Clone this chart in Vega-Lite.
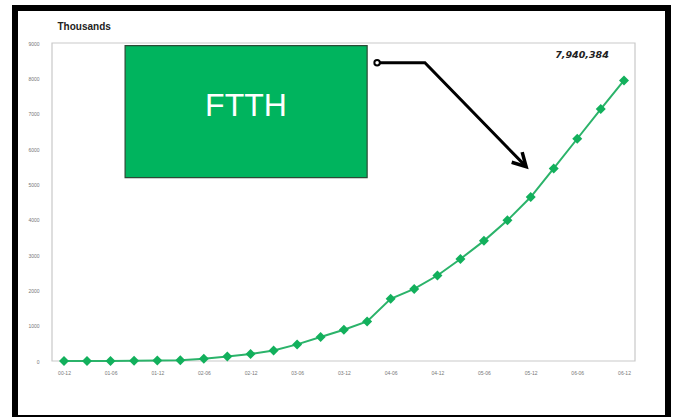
{
  "$schema": "https://vega.github.io/schema/vega-lite/v6.json",
  "width": 653,
  "height": 410,
  "autosize": {"type": "none"},
  "padding": {"left": 15, "top": 8, "right": 6, "bottom": 0},
  "background": "white",
  "view": {"stroke": "black", "strokeWidth": 6, "fill": "white"},
  "config": {"font": "Liberation Sans"},
  "datasets": {
    "subscribers": [
      {"date": "2000-12-01", "k": 0},
      {"date": "2001-03-01", "k": 1},
      {"date": "2001-06-01", "k": 3},
      {"date": "2001-09-01", "k": 5},
      {"date": "2001-12-01", "k": 15},
      {"date": "2002-03-01", "k": 18},
      {"date": "2002-06-01", "k": 65},
      {"date": "2002-09-01", "k": 130},
      {"date": "2002-12-01", "k": 200},
      {"date": "2003-03-01", "k": 300},
      {"date": "2003-06-01", "k": 470},
      {"date": "2003-09-01", "k": 680},
      {"date": "2003-12-01", "k": 886},
      {"date": "2004-03-01", "k": 1120},
      {"date": "2004-06-01", "k": 1760},
      {"date": "2004-09-01", "k": 2040},
      {"date": "2004-12-01", "k": 2420},
      {"date": "2005-03-01", "k": 2887},
      {"date": "2005-06-01", "k": 3400},
      {"date": "2005-09-01", "k": 3980},
      {"date": "2005-12-01", "k": 4640},
      {"date": "2006-03-01", "k": 5450},
      {"date": "2006-06-01", "k": 6290},
      {"date": "2006-09-01", "k": 7130},
      {"date": "2006-12-01", "k": 7940.384}
    ],
    "plotFrame": [
      {"date": "2000-10-15", "date2": "2007-01-13", "k": 0, "k2": 9000}
    ],
    "callout": [
      {"date": "2001-07-28", "date2": "2004-03-01", "k": 5190, "k2": 8924}
    ],
    "calloutLabel": [
      {"date": "2002-11-13", "k": 7226, "label": "FTTH"}
    ],
    "arrow": [
      {"date": "2004-04-09", "k": 8443, "step": 1},
      {"date": "2004-10-13", "k": 8443, "step": 2},
      {"date": "2005-11-13", "k": 5500, "step": 3}
    ]
  },
  "encoding": {
    "x": {
      "field": "date",
      "type": "temporal",
      "scale": {
        "type": "utc",
        "domain": [
          {"year": 2000, "month": 10, "date": 15, "utc": true},
          {"year": 2007, "month": 1, "date": 13, "utc": true}
        ],
        "range": [37, 620]
      },
      "axis": {
        "values": [
          {"year": 2000, "month": 12, "date": 1, "utc": true},
          {"year": 2001, "month": 6, "date": 1, "utc": true},
          {"year": 2001, "month": 12, "date": 1, "utc": true},
          {"year": 2002, "month": 6, "date": 1, "utc": true},
          {"year": 2002, "month": 12, "date": 1, "utc": true},
          {"year": 2003, "month": 6, "date": 1, "utc": true},
          {"year": 2003, "month": 12, "date": 1, "utc": true},
          {"year": 2004, "month": 6, "date": 1, "utc": true},
          {"year": 2004, "month": 12, "date": 1, "utc": true},
          {"year": 2005, "month": 6, "date": 1, "utc": true},
          {"year": 2005, "month": 12, "date": 1, "utc": true},
          {"year": 2006, "month": 6, "date": 1, "utc": true},
          {"year": 2006, "month": 12, "date": 1, "utc": true}
        ],
        "format": "%y-%m",
        "offset": -57,
        "domain": false,
        "ticks": false,
        "grid": false,
        "labelFontSize": 5,
        "labelColor": "#777777",
        "labelPadding": 9,
        "labelFlush": false,
        "labelOverlap": false,
        "title": null
      }
    },
    "y": {
      "field": "k",
      "type": "quantitative",
      "scale": {"domain": [0, 9000], "range": [353, 35], "nice": false, "zero": false},
      "axis": {
        "values": [0, 1000, 2000, 3000, 4000, 5000, 6000, 7000, 8000, 9000],
        "format": "d",
        "offset": -37,
        "domain": false,
        "ticks": false,
        "grid": false,
        "labelFontSize": 5,
        "labelColor": "#777777",
        "labelPadding": 13,
        "labelFlush": false,
        "labelOverlap": false,
        "title": "Thousands",
        "titleAngle": 0,
        "titleAlign": "left",
        "titleBaseline": "alphabetic",
        "titleX": 5,
        "titleY": 21,
        "titleFontSize": 10,
        "titleFontWeight": "bold",
        "titleColor": "#222222"
      }
    }
  },
  "layer": [
    {
      "data": {"name": "plotFrame"},
      "mark": {"type": "rect", "fill": "transparent", "stroke": "#c9c9c9", "strokeWidth": 1.2},
      "encoding": {"x2": {"field": "date2"}, "y2": {"field": "k2"}}
    },
    {
      "data": {"name": "callout"},
      "mark": {"type": "rect", "fill": "#00b45e", "stroke": "#2b4a36", "strokeWidth": 1.2},
      "encoding": {"x2": {"field": "date2"}, "y2": {"field": "k2"}}
    },
    {
      "data": {"name": "calloutLabel"},
      "mark": {"type": "text", "color": "white", "fontSize": 32, "align": "center", "baseline": "middle"},
      "encoding": {"text": {"field": "label"}}
    },
    {
      "data": {"name": "arrow"},
      "mark": {"type": "line", "color": "black", "strokeWidth": 3, "strokeJoin": "miter"},
      "encoding": {"order": {"field": "step"}}
    },
    {
      "data": {"name": "arrow"},
      "transform": [{"filter": "datum.step === 1"}],
      "mark": {"type": "point", "shape": "circle", "size": 30, "filled": false, "fill": "white", "stroke": "black", "strokeWidth": 2, "opacity": 1}
    },
    {
      "data": {"name": "arrow"},
      "transform": [{"filter": "datum.step === 3"}],
      "mark": {"type": "point", "shape": "M-1,-0.55L0,0L-1,0.55", "size": 700, "filled": false, "stroke": "black", "strokeWidth": 3.5, "angle": 46, "opacity": 1}
    },
    {
      "data": {"name": "subscribers"},
      "mark": {
        "type": "line",
        "color": "#2bb36a",
        "strokeWidth": 2,
        "point": {"shape": "diamond", "size": 100, "filled": true, "color": "#12b05c", "opacity": 1}
      }
    },
    {
      "data": {"name": "subscribers"},
      "transform": [
        {"joinaggregate": [{"op": "max", "field": "k", "as": "latest"}]},
        {"filter": "datum.k === datum.latest"},
        {"calculate": "datum.k * 1000", "as": "people"}
      ],
      "mark": {
        "type": "text",
        "font": "DejaVu Sans",
        "fontStyle": "italic",
        "fontWeight": "bold",
        "fontSize": 9.5,
        "color": "#222222",
        "align": "center",
        "baseline": "alphabetic",
        "dx": -42,
        "dy": -22
      },
      "encoding": {"text": {"field": "people", "type": "quantitative", "format": ",.0f"}}
    }
  ]
}
